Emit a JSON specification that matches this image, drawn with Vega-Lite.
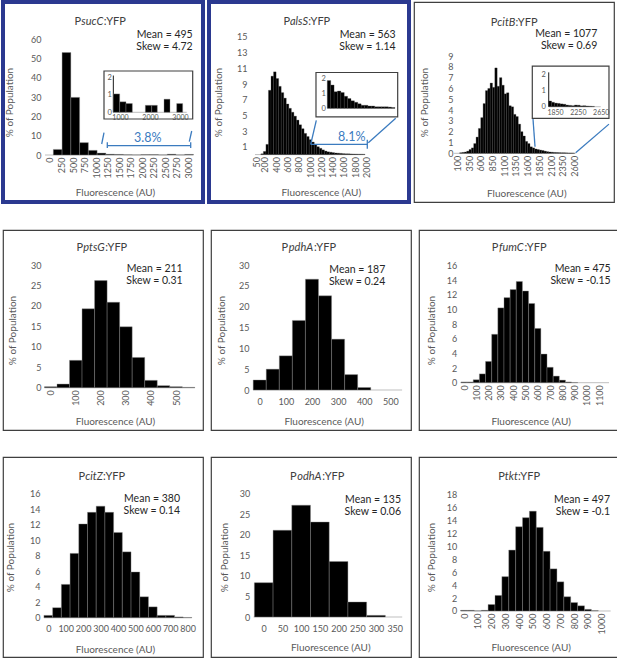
{
  "$schema": "https://vega.github.io/schema/vega-lite/v6.json",
  "background": "white",
  "padding": {"left": 1, "top": 0, "right": 0, "bottom": 0},
  "config": {
    "view": {"stroke": "#3f3f3f", "strokeWidth": 1.2},
    "axis": {"grid": false, "ticks": false, "domain": false, "labelFont": "Lato", "labelFontSize": 9, "labelColor": "#595959", "titleFont": "Lato", "titleFontSize": 10, "titleFontWeight": "normal", "titleColor": "#595959", "labelOverlap": false, "labelFlush": false, "zindex": 1},
    "text": {"font": "Lato"},
    "bar": {"color": "#000000", "stroke": "#8a8a8a", "strokeWidth": 0.4}
  },
  "datasets": {
    "sucC": [
      {"lo": 72, "hi": 262, "pct": 2.9}, {"lo": 262, "hi": 452, "pct": 53}, {"lo": 452, "hi": 642, "pct": 29.8},
      {"lo": 642, "hi": 832, "pct": 6.4}, {"lo": 832, "hi": 1022, "pct": 2.4}, {"lo": 1022, "hi": 1212, "pct": 1.0},
      {"lo": 1212, "hi": 1402, "pct": 0.4}, {"lo": 1402, "hi": 1592, "pct": 0.3}, {"lo": 1592, "hi": 1782, "pct": 0.1},
      {"lo": 1782, "hi": 1972, "pct": 0.05}, {"lo": 1972, "hi": 2162, "pct": 0.2}, {"lo": 2162, "hi": 2352, "pct": 0.2},
      {"lo": 2352, "hi": 2542, "pct": 0.05}, {"lo": 2542, "hi": 2732, "pct": 0.4}, {"lo": 2732, "hi": 2922, "pct": 0.05},
      {"lo": 2922, "hi": 3112, "pct": 0.3}
    ],
    "sucC_tail": [
      {"lo": 778, "hi": 989, "pct": 1.05}, {"lo": 989, "hi": 1200, "pct": 0.6}, {"lo": 1200, "hi": 1411, "pct": 0.5},
      {"lo": 1844, "hi": 2056, "pct": 0.4}, {"lo": 2056, "hi": 2244, "pct": 0.4}, {"lo": 2467, "hi": 2667, "pct": 0.75},
      {"lo": 2889, "hi": 3089, "pct": 0.5}
    ],
    "alsS": [
      {"lo": 130, "hi": 175, "pct": 0.1}, {"lo": 175, "hi": 220, "pct": 0.4}, {"lo": 220, "hi": 265, "pct": 1.3},
      {"lo": 265, "hi": 310, "pct": 8.2}, {"lo": 310, "hi": 355, "pct": 10.0}, {"lo": 355, "hi": 400, "pct": 10.55},
      {"lo": 400, "hi": 445, "pct": 9.7}, {"lo": 445, "hi": 490, "pct": 8.7}, {"lo": 490, "hi": 535, "pct": 7.9},
      {"lo": 535, "hi": 580, "pct": 7.2}, {"lo": 580, "hi": 625, "pct": 6.45}, {"lo": 625, "hi": 670, "pct": 5.9},
      {"lo": 670, "hi": 715, "pct": 5.4}, {"lo": 715, "hi": 760, "pct": 4.9}, {"lo": 760, "hi": 805, "pct": 4.4},
      {"lo": 805, "hi": 850, "pct": 3.8}, {"lo": 850, "hi": 895, "pct": 3.3}, {"lo": 895, "hi": 940, "pct": 2.7},
      {"lo": 940, "hi": 985, "pct": 2.3}, {"lo": 985, "hi": 1030, "pct": 1.9}, {"lo": 1030, "hi": 1075, "pct": 1.6},
      {"lo": 1075, "hi": 1120, "pct": 1.25}, {"lo": 1120, "hi": 1165, "pct": 1.0}, {"lo": 1165, "hi": 1210, "pct": 0.8},
      {"lo": 1210, "hi": 1255, "pct": 0.6}, {"lo": 1255, "hi": 1300, "pct": 0.45}, {"lo": 1300, "hi": 1345, "pct": 0.35},
      {"lo": 1345, "hi": 1390, "pct": 0.3}, {"lo": 1390, "hi": 1435, "pct": 0.25}, {"lo": 1435, "hi": 1480, "pct": 0.2},
      {"lo": 1480, "hi": 1525, "pct": 0.18}, {"lo": 1525, "hi": 1570, "pct": 0.15}, {"lo": 1570, "hi": 1615, "pct": 0.12},
      {"lo": 1615, "hi": 1660, "pct": 0.1}, {"lo": 1660, "hi": 1705, "pct": 0.1}, {"lo": 1705, "hi": 1750, "pct": 0.08},
      {"lo": 1750, "hi": 1795, "pct": 0.07}, {"lo": 1795, "hi": 1840, "pct": 0.06}, {"lo": 1840, "hi": 1885, "pct": 0.05},
      {"lo": 1885, "hi": 1930, "pct": 0.05}, {"lo": 1930, "hi": 1975, "pct": 0.04}
    ],
    "alsS_tail": [
      {"lo": 1000, "hi": 1050, "pct": 1.85}, {"lo": 1050, "hi": 1100, "pct": 1.55}, {"lo": 1100, "hi": 1150, "pct": 1.1},
      {"lo": 1150, "hi": 1200, "pct": 1.15}, {"lo": 1200, "hi": 1250, "pct": 1.05}, {"lo": 1250, "hi": 1300, "pct": 0.8},
      {"lo": 1300, "hi": 1350, "pct": 0.65}, {"lo": 1350, "hi": 1400, "pct": 0.5}, {"lo": 1400, "hi": 1450, "pct": 0.4},
      {"lo": 1450, "hi": 1500, "pct": 0.3}, {"lo": 1500, "hi": 1550, "pct": 0.2}, {"lo": 1550, "hi": 1600, "pct": 0.2},
      {"lo": 1600, "hi": 1650, "pct": 0.15}, {"lo": 1650, "hi": 1700, "pct": 0.15}, {"lo": 1700, "hi": 1750, "pct": 0.1},
      {"lo": 1750, "hi": 1800, "pct": 0.1}, {"lo": 1800, "hi": 1850, "pct": 0.1}, {"lo": 1850, "hi": 1900, "pct": 0.1},
      {"lo": 1900, "hi": 1950, "pct": 0.08}, {"lo": 1950, "hi": 2000, "pct": 0.05}
    ],
    "citB": [
      {"lo": 150, "hi": 200, "pct": 0.05}, {"lo": 200, "hi": 250, "pct": 0.08}, {"lo": 250, "hi": 300, "pct": 0.12},
      {"lo": 300, "hi": 350, "pct": 0.2}, {"lo": 350, "hi": 400, "pct": 0.35}, {"lo": 400, "hi": 450, "pct": 0.5},
      {"lo": 450, "hi": 500, "pct": 0.9}, {"lo": 500, "hi": 550, "pct": 1.5}, {"lo": 550, "hi": 600, "pct": 2.3},
      {"lo": 600, "hi": 650, "pct": 3.3}, {"lo": 650, "hi": 700, "pct": 4.6}, {"lo": 700, "hi": 750, "pct": 5.8},
      {"lo": 750, "hi": 800, "pct": 6.0}, {"lo": 800, "hi": 850, "pct": 6.5}, {"lo": 850, "hi": 900, "pct": 6.1},
      {"lo": 900, "hi": 950, "pct": 7.9}, {"lo": 950, "hi": 1000, "pct": 6.2}, {"lo": 1000, "hi": 1050, "pct": 7.0},
      {"lo": 1050, "hi": 1100, "pct": 6.3}, {"lo": 1100, "hi": 1150, "pct": 5.5}, {"lo": 1150, "hi": 1200, "pct": 5.6},
      {"lo": 1200, "hi": 1250, "pct": 4.4}, {"lo": 1250, "hi": 1300, "pct": 4.3}, {"lo": 1300, "hi": 1350, "pct": 3.6},
      {"lo": 1350, "hi": 1400, "pct": 3.4}, {"lo": 1400, "hi": 1450, "pct": 2.7}, {"lo": 1450, "hi": 1500, "pct": 2.0},
      {"lo": 1500, "hi": 1550, "pct": 1.6}, {"lo": 1550, "hi": 1600, "pct": 1.1}, {"lo": 1600, "hi": 1650, "pct": 0.9},
      {"lo": 1650, "hi": 1700, "pct": 0.6}, {"lo": 1700, "hi": 1750, "pct": 0.5}, {"lo": 1750, "hi": 1800, "pct": 0.4},
      {"lo": 1800, "hi": 1850, "pct": 0.35}, {"lo": 1850, "hi": 1900, "pct": 0.3}, {"lo": 1900, "hi": 1950, "pct": 0.25},
      {"lo": 1950, "hi": 2000, "pct": 0.2}, {"lo": 2000, "hi": 2050, "pct": 0.15}, {"lo": 2050, "hi": 2100, "pct": 0.12},
      {"lo": 2100, "hi": 2150, "pct": 0.1}, {"lo": 2150, "hi": 2200, "pct": 0.08}, {"lo": 2200, "hi": 2250, "pct": 0.07},
      {"lo": 2250, "hi": 2300, "pct": 0.06}, {"lo": 2300, "hi": 2350, "pct": 0.05}, {"lo": 2350, "hi": 2400, "pct": 0.05},
      {"lo": 2400, "hi": 2450, "pct": 0.04}, {"lo": 2450, "hi": 2500, "pct": 0.03}, {"lo": 2500, "hi": 2550, "pct": 0.03},
      {"lo": 2550, "hi": 2600, "pct": 0.02}
    ],
    "citB_tail": [
      {"lo": 1740, "hi": 1790, "pct": 0.35}, {"lo": 1790, "hi": 1840, "pct": 0.27}, {"lo": 1840, "hi": 1890, "pct": 0.22},
      {"lo": 1890, "hi": 1940, "pct": 0.2}, {"lo": 1940, "hi": 1990, "pct": 0.17}, {"lo": 1990, "hi": 2040, "pct": 0.15},
      {"lo": 2040, "hi": 2090, "pct": 0.1}, {"lo": 2090, "hi": 2140, "pct": 0.08}, {"lo": 2140, "hi": 2190, "pct": 0.06},
      {"lo": 2190, "hi": 2240, "pct": 0.1}, {"lo": 2240, "hi": 2290, "pct": 0.09}, {"lo": 2290, "hi": 2340, "pct": 0.05},
      {"lo": 2340, "hi": 2390, "pct": 0.06}, {"lo": 2390, "hi": 2440, "pct": 0.04}, {"lo": 2440, "hi": 2490, "pct": 0.03},
      {"lo": 2490, "hi": 2540, "pct": 0.02}
    ],
    "ptsG": [
      {"lo": -25, "hi": 25, "pct": 0.25}, {"lo": 25, "hi": 75, "pct": 0.9}, {"lo": 75, "hi": 125, "pct": 6.7},
      {"lo": 125, "hi": 175, "pct": 19.3}, {"lo": 175, "hi": 225, "pct": 26.2}, {"lo": 225, "hi": 275, "pct": 20.9},
      {"lo": 275, "hi": 325, "pct": 14.9}, {"lo": 325, "hi": 375, "pct": 7.4}, {"lo": 375, "hi": 425, "pct": 1.8},
      {"lo": 425, "hi": 475, "pct": 0.5}, {"lo": 475, "hi": 525, "pct": 0.25}, {"lo": 525, "hi": 575, "pct": 0.1}
    ],
    "pdhA": [
      {"lo": -25, "hi": 25, "pct": 2.4}, {"lo": 25, "hi": 75, "pct": 5.0}, {"lo": 75, "hi": 125, "pct": 8.2},
      {"lo": 125, "hi": 175, "pct": 16.7}, {"lo": 175, "hi": 225, "pct": 26.6}, {"lo": 225, "hi": 275, "pct": 22.6},
      {"lo": 275, "hi": 325, "pct": 12.2}, {"lo": 325, "hi": 375, "pct": 3.7}, {"lo": 375, "hi": 425, "pct": 0.6}
    ],
    "fumC": [
      {"lo": -25, "hi": 25, "pct": 0.1}, {"lo": 25, "hi": 75, "pct": 0.1}, {"lo": 75, "hi": 125, "pct": 0.4},
      {"lo": 125, "hi": 175, "pct": 1.2}, {"lo": 175, "hi": 225, "pct": 2.9}, {"lo": 225, "hi": 275, "pct": 6.6},
      {"lo": 275, "hi": 325, "pct": 10.2}, {"lo": 325, "hi": 375, "pct": 11.6}, {"lo": 375, "hi": 425, "pct": 12.7},
      {"lo": 425, "hi": 475, "pct": 13.8}, {"lo": 475, "hi": 525, "pct": 12.5}, {"lo": 525, "hi": 575, "pct": 10.8},
      {"lo": 575, "hi": 625, "pct": 7.4}, {"lo": 625, "hi": 675, "pct": 3.9}, {"lo": 675, "hi": 725, "pct": 2.1},
      {"lo": 725, "hi": 775, "pct": 0.9}, {"lo": 775, "hi": 825, "pct": 0.35}, {"lo": 825, "hi": 875, "pct": 0.1},
      {"lo": 875, "hi": 925, "pct": 0.03}
    ],
    "citZ": [
      {"lo": -25, "hi": 25, "pct": 0.3}, {"lo": 25, "hi": 75, "pct": 1.3}, {"lo": 75, "hi": 125, "pct": 4.3},
      {"lo": 125, "hi": 175, "pct": 8.3}, {"lo": 175, "hi": 225, "pct": 12.1}, {"lo": 225, "hi": 275, "pct": 13.6},
      {"lo": 275, "hi": 325, "pct": 14.4}, {"lo": 325, "hi": 375, "pct": 13.6}, {"lo": 375, "hi": 425, "pct": 11.0},
      {"lo": 425, "hi": 475, "pct": 8.5}, {"lo": 475, "hi": 525, "pct": 5.9}, {"lo": 525, "hi": 575, "pct": 2.7},
      {"lo": 575, "hi": 625, "pct": 1.4}, {"lo": 625, "hi": 675, "pct": 0.3}, {"lo": 675, "hi": 725, "pct": 0.3},
      {"lo": 725, "hi": 775, "pct": 0.1}, {"lo": 775, "hi": 825, "pct": 0.03}
    ],
    "odhA": [
      {"lo": -25, "hi": 25, "pct": 8.35}, {"lo": 25, "hi": 75, "pct": 21.1}, {"lo": 75, "hi": 125, "pct": 27.2},
      {"lo": 125, "hi": 175, "pct": 23.1}, {"lo": 175, "hi": 225, "pct": 13.5}, {"lo": 225, "hi": 275, "pct": 3.65},
      {"lo": 275, "hi": 325, "pct": 0.4}
    ],
    "tkt": [
      {"lo": -25, "hi": 25, "pct": 0.1}, {"lo": 25, "hi": 75, "pct": 0.1}, {"lo": 75, "hi": 125, "pct": 0.02},
      {"lo": 125, "hi": 175, "pct": 0.1}, {"lo": 175, "hi": 225, "pct": 1.0}, {"lo": 225, "hi": 275, "pct": 2.4},
      {"lo": 275, "hi": 325, "pct": 5.3}, {"lo": 325, "hi": 375, "pct": 9.4}, {"lo": 375, "hi": 425, "pct": 13.0},
      {"lo": 425, "hi": 475, "pct": 14.4}, {"lo": 475, "hi": 525, "pct": 15.4}, {"lo": 525, "hi": 575, "pct": 12.9},
      {"lo": 575, "hi": 625, "pct": 9.2}, {"lo": 625, "hi": 675, "pct": 6.5}, {"lo": 675, "hi": 725, "pct": 4.5},
      {"lo": 725, "hi": 775, "pct": 2.2}, {"lo": 775, "hi": 825, "pct": 1.3}, {"lo": 825, "hi": 875, "pct": 0.8},
      {"lo": 875, "hi": 925, "pct": 0.25}, {"lo": 925, "hi": 975, "pct": 0.05}
    ]
  },
  "spacing": 25,
  "vconcat": [
    {
      "spacing": 2,
      "hconcat": [
        {
          "width": 200, "height": 200,
          "view": {"stroke": "#2b3990", "strokeWidth": 4},
          "resolve": {"scale": {"x": "independent", "y": "independent"}},
          "layer": [
            {
              "layer": [
                {"data": {"values": [{}]}, "mark": {"type": "rule", "color": "#bfbfbf", "strokeWidth": 1},
                 "encoding": {"x": {"datum": -108, "type": "quantitative"}, "x2": {"datum": 3112}, "y": {"datum": 0, "type": "quantitative"}}},
                {"data": {"name": "sucC"}, "mark": {"type": "bar"},
                 "encoding": {
                   "x": {"field": "lo", "type": "quantitative", "scale": {"domain": [-1019.5, 3318.9], "nice": false, "zero": false},
                         "axis": {"orient": "bottom", "offset": -47, "values": [0, 250, 500, 750, 1000, 1250, 1500, 1750, 2000, 2250, 2500, 2750, 3000], "tickCount": 100, "format": "d", "labelOverlap": false, "labelFlush": false, "labelAngle": -90, "labelPadding": 2, "title": "Fluorescence (AU)", "titlePadding": 10, "titleX": 112}},
                   "x2": {"field": "hi"},
                   "y": {"field": "pct", "type": "quantitative", "scale": {"domain": [-24.31, 79.14], "nice": false, "zero": false},
                         "axis": {"orient": "left", "offset": -42, "values": [0, 10, 20, 30, 40, 50, 60], "tickCount": 100, "format": "d", "labelOverlap": false, "labelFlush": false, "labelPadding": 4, "title": "% of Population", "titlePadding": 16}},
                   "y2": {"datum": 0}}},
                {"data": {"values": [{}]},
                 "encoding": {"x": {"datum": 1084.6, "type": "quantitative"}, "y": {"datum": 67.09, "type": "quantitative"}},
                 "layer": [
                   {"mark": {"type": "text", "text": "P", "align": "right", "baseline": "alphabetic", "dx": -19.0, "fontSize": 11, "color": "#404040"}},
                   {"mark": {"type": "text", "text": "sucC", "align": "center", "baseline": "alphabetic", "dx": -7.7, "fontSize": 11, "fontStyle": "italic", "color": "#404040"}},
                   {"mark": {"type": "text", "text": ":YFP", "align": "left", "baseline": "alphabetic", "dx": 3.8, "fontSize": 11, "color": "#404040"}}
                 ]},
                {"data": {"values": [{}]}, "mark": {"type": "text", "text": ["Mean = 495", "Skew = 4.72"], "align": "right", "baseline": "alphabetic", "lineHeight": 12, "fontSize": 10.5, "color": "#262626"},
                 "encoding": {"x": {"datum": 3095.4, "type": "quantitative"}, "y": {"datum": 60.36, "type": "quantitative"}}},
                {"data": {"values": [{}]}, "mark": {"type": "rect", "fill": "white", "fillOpacity": 0, "stroke": "#404040", "strokeWidth": 1.2},
                 "encoding": {"x": {"datum": 1171.4, "type": "quantitative"}, "x2": {"datum": 3095.4}, "y": {"datum": 18.62, "type": "quantitative"}, "y2": {"datum": 43.45}}},
                {"data": {"values": [{}]}, "mark": {"type": "rule", "color": "#3b7bbf", "strokeWidth": 1.3},
                 "encoding": {"x": {"datum": 1121.5, "type": "quantitative"}, "x2": {"datum": 1171.4}, "y": {"datum": 5.69, "type": "quantitative"}, "y2": {"datum": 11.53}}},
                {"data": {"values": [{}]}, "mark": {"type": "rule", "color": "#3b7bbf", "strokeWidth": 1.3},
                 "encoding": {"x": {"datum": 3021.7, "type": "quantitative"}, "x2": {"datum": 3073.8}, "y": {"datum": 6.88, "type": "quantitative"}, "y2": {"datum": 12.41}}},
                {"data": {"values": [{}]}, "mark": {"type": "rule", "color": "#3b7bbf", "strokeWidth": 1.3},
                 "encoding": {"x": {"datum": 1243, "type": "quantitative"}, "x2": {"datum": 3052}, "y": {"datum": 4.81, "type": "quantitative"}}},
                {"data": {"values": [{}]}, "mark": {"type": "rule", "color": "#3b7bbf", "strokeWidth": 1.3},
                 "encoding": {"x": {"datum": 1243, "type": "quantitative"}, "y": {"datum": 6.57, "type": "quantitative"}, "y2": {"datum": 3.62}}},
                {"data": {"values": [{}]}, "mark": {"type": "rule", "color": "#3b7bbf", "strokeWidth": 1.3},
                 "encoding": {"x": {"datum": 3052, "type": "quantitative"}, "y": {"datum": 6.57, "type": "quantitative"}, "y2": {"datum": 3.62}}},
                {"data": {"values": [{}]}, "mark": {"type": "text", "text": "3.8%", "align": "center", "baseline": "middle", "fontSize": 12.5, "color": "#3b7bbf"},
                 "encoding": {"x": {"datum": 2119, "type": "quantitative"}, "y": {"datum": 8.64, "type": "quantitative"}}}
              ]
            },
            {
              "layer": [
                {"data": {"values": [{}]}, "mark": {"type": "rule", "color": "#bfbfbf", "strokeWidth": 1},
                 "encoding": {"x": {"datum": 778, "type": "quantitative"}, "x2": {"datum": 3223}, "y": {"datum": 0, "type": "quantitative"}}},
                {"data": {"values": [{}]}, "mark": {"type": "rule", "color": "#1a1a1a", "strokeWidth": 1},
                 "encoding": {"x": {"datum": 778, "type": "quantitative"}, "y": {"datum": 0, "type": "quantitative"}, "y2": {"datum": 2.1}}},
                {"data": {"name": "sucC_tail"}, "mark": {"type": "bar"},
                 "encoding": {
                   "x": {"field": "lo", "type": "quantitative", "scale": {"domain": [-2900, 3766.7], "nice": false, "zero": false},
                         "axis": {"orient": "bottom", "offset": -89.7, "values": [1000, 2000, 3000], "tickCount": 100, "format": "d", "labelOverlap": false, "labelFlush": false, "labelAngle": 0, "labelPadding": 1, "labelFontSize": 7, "title": null}},
                   "x2": {"field": "hi"},
                   "y": {"field": "pct", "type": "quantitative", "scale": {"domain": [-5.126, 6.303], "nice": false, "zero": false},
                         "axis": {"orient": "left", "offset": -110.3, "values": [0, 1, 2], "tickCount": 100, "format": "d", "labelOverlap": false, "labelFlush": false, "labelPadding": 2, "labelFontSize": 7.5, "title": null}},
                   "y2": {"datum": 0}}}
              ]
            }
          ]
        },
        {
          "width": 200, "height": 200,
          "view": {"stroke": "#2b3990", "strokeWidth": 4},
          "resolve": {"scale": {"x": "independent", "y": "independent"}},
          "layer": [
            {
              "layer": [
                {"data": {"values": [{}]}, "mark": {"type": "rule", "color": "#bfbfbf", "strokeWidth": 1},
                 "encoding": {"x": {"datum": 26.5, "type": "quantitative"}, "x2": {"datum": 1975}, "y": {"datum": 0, "type": "quantitative"}}},
                {"data": {"name": "alsS"}, "mark": {"type": "bar", "stroke": "#3a3a3a", "strokeWidth": 0.3},
                 "encoding": {
                   "x": {"field": "lo", "type": "quantitative", "scale": {"domain": [-787.6, 2752.2], "nice": false, "zero": false},
                         "axis": {"orient": "bottom", "offset": -47.4, "values": [50, 200, 400, 600, 800, 1000, 1200, 1400, 1600, 1800, 2000], "tickCount": 100, "format": "d", "labelOverlap": false, "labelFlush": false, "labelAngle": -90, "labelPadding": 2, "title": "Fluorescence (AU)", "titlePadding": 10, "titleX": 111.8}},
                   "x2": {"field": "hi"},
                   "y": {"field": "pct", "type": "quantitative", "scale": {"domain": [-6.046, 19.46], "nice": false, "zero": false},
                         "axis": {"orient": "left", "offset": -42, "values": [1, 3, 5, 7, 9, 11, 13, 15], "tickCount": 100, "format": "d", "labelOverlap": false, "labelFlush": false, "labelPadding": 4, "title": "% of Population", "titlePadding": 13}},
                   "y2": {"datum": 0}}},
                {"data": {"values": [{}]},
                 "encoding": {"x": {"datum": 941.6, "type": "quantitative"}, "y": {"datum": 16.49, "type": "quantitative"}},
                 "layer": [
                   {"mark": {"type": "text", "text": "P", "align": "right", "baseline": "alphabetic", "dx": -16.65, "fontSize": 11, "color": "#404040"}},
                   {"mark": {"type": "text", "text": "alsS", "align": "center", "baseline": "alphabetic", "dx": -7.7, "fontSize": 11, "fontStyle": "italic", "color": "#404040"}},
                   {"mark": {"type": "text", "text": ":YFP", "align": "left", "baseline": "alphabetic", "dx": 1.5, "fontSize": 11, "color": "#404040"}}
                 ]},
                {"data": {"values": [{}]}, "mark": {"type": "text", "text": ["Mean = 563", "Skew = 1.14"], "align": "right", "baseline": "alphabetic", "lineHeight": 12, "fontSize": 10.5, "color": "#262626"},
                 "encoding": {"x": {"datum": 2516.8, "type": "quantitative"}, "y": {"datum": 14.83, "type": "quantitative"}}},
                {"data": {"values": [{}]}, "mark": {"type": "rect", "fill": "white", "fillOpacity": 0, "stroke": "#404040", "strokeWidth": 1.2},
                 "encoding": {"x": {"datum": 1106, "type": "quantitative"}, "x2": {"datum": 2552}, "y": {"datum": 4.8, "type": "quantitative"}, "y2": {"datum": 10.47}}},
                {"data": {"values": [{}]}, "mark": {"type": "rule", "color": "#3b7bbf", "strokeWidth": 1.3},
                 "encoding": {"x": {"datum": 1012, "type": "quantitative"}, "x2": {"datum": 1111.5}, "y": {"datum": 1.314, "type": "quantitative"}, "y2": {"datum": 4.375}}},
                {"data": {"values": [{}]}, "mark": {"type": "rule", "color": "#3b7bbf", "strokeWidth": 1.3},
                 "encoding": {"x": {"datum": 2032, "type": "quantitative"}, "x2": {"datum": 2517}, "y": {"datum": 1.518, "type": "quantitative"}, "y2": {"datum": 4.63}}},
                {"data": {"values": [{}]}, "mark": {"type": "rule", "color": "#3b7bbf", "strokeWidth": 1.3},
                 "encoding": {"x": {"datum": 1012, "type": "quantitative"}, "x2": {"datum": 2014}, "y": {"datum": 1.314, "type": "quantitative"}}},
                {"data": {"values": [{}]}, "mark": {"type": "rule", "color": "#3b7bbf", "strokeWidth": 1.3},
                 "encoding": {"x": {"datum": 2014, "type": "quantitative"}, "y": {"datum": 1.9, "type": "quantitative"}, "y2": {"datum": 0.75}}},
                {"data": {"values": [{}]}, "mark": {"type": "text", "text": "8.1%", "align": "center", "baseline": "middle", "fontSize": 12.5, "color": "#3b7bbf"},
                 "encoding": {"x": {"datum": 1738, "type": "quantitative"}, "y": {"datum": 2.28, "type": "quantitative"}}}
              ]
            },
            {
              "layer": [
                {"data": {"values": [{}]}, "mark": {"type": "rule", "color": "#bfbfbf", "strokeWidth": 1},
                 "encoding": {"x": {"datum": 1000, "type": "quantitative", "axis": null}, "x2": {"datum": 2000}, "y": {"datum": 0, "type": "quantitative"}}},
                {"data": {"name": "alsS_tail"}, "mark": {"type": "bar", "stroke": "#3a3a3a", "strokeWidth": 0.3},
                 "encoding": {
                   "x": {"field": "lo", "type": "quantitative", "scale": {"domain": [-747.4, 2206.8], "nice": false, "zero": false}, "axis": null},
                   "x2": {"field": "hi"},
                   "y": {"field": "pct", "type": "quantitative", "scale": {"domain": [-6.247, 7.087], "nice": false, "zero": false},
                         "axis": {"orient": "left", "offset": -118.3, "values": [0, 1, 2], "tickCount": 100, "format": "d", "labelOverlap": false, "labelFlush": false, "labelPadding": 2, "labelFontSize": 7.5, "title": null}},
                   "y2": {"datum": 0}}}
              ]
            }
          ]
        },
        {
          "width": 200, "height": 200,
          "resolve": {"scale": {"x": "independent", "y": "independent"}},
          "layer": [
            {
              "layer": [
                {"data": {"values": [{}]}, "mark": {"type": "rule", "color": "#bfbfbf", "strokeWidth": 1},
                 "encoding": {"x": {"datum": 30, "type": "quantitative"}, "x2": {"datum": 2624}, "y": {"datum": 0, "type": "quantitative"}}},
                {"data": {"name": "citB"}, "mark": {"type": "bar", "stroke": "#3a3a3a", "strokeWidth": 0.3},
                 "encoding": {
                   "x": {"field": "lo", "type": "quantitative", "scale": {"domain": [-823.2, 3441], "nice": false, "zero": false},
                         "axis": {"orient": "bottom", "offset": -48.7, "values": [100, 350, 600, 850, 1100, 1350, 1600, 1850, 2100, 2350, 2600], "tickCount": 100, "format": "d", "labelOverlap": false, "labelFlush": false, "labelAngle": -90, "labelPadding": 2, "title": "Fluorescence (AU)", "titlePadding": 12, "titleX": 112.3}},
                   "x2": {"field": "hi"},
                   "y": {"field": "pct", "type": "quantitative", "scale": {"domain": [-4.505, 14.0], "nice": false, "zero": false},
                         "axis": {"orient": "left", "offset": -41, "values": [0, 1, 2, 3, 4, 5, 6, 7, 8, 9], "tickCount": 100, "format": "d", "labelOverlap": false, "labelFlush": false, "labelPadding": 2, "title": "% of Population", "titlePadding": 18}},
                   "y2": {"datum": 0}}},
                {"data": {"values": [{}]},
                 "encoding": {"x": {"datum": 1309, "type": "quantitative"}, "y": {"datum": 11.75, "type": "quantitative"}},
                 "layer": [
                   {"mark": {"type": "text", "text": "P", "align": "right", "baseline": "alphabetic", "dx": -16.7, "fontSize": 11, "color": "#404040"}},
                   {"mark": {"type": "text", "text": "citB", "align": "center", "baseline": "alphabetic", "dx": -7.7, "fontSize": 11, "fontStyle": "italic", "color": "#404040"}},
                   {"mark": {"type": "text", "text": ":YFP", "align": "left", "baseline": "alphabetic", "dx": 1.5, "fontSize": 11, "color": "#404040"}}
                 ]},
                {"data": {"values": [{}]}, "mark": {"type": "text", "text": ["Mean = 1077", "Skew = 0.69"], "align": "right", "baseline": "alphabetic", "lineHeight": 12, "fontSize": 10.5, "color": "#262626"},
                 "encoding": {"x": {"datum": 3085, "type": "quantitative"}, "y": {"datum": 10.79, "type": "quantitative"}}},
                {"data": {"values": [{}]}, "mark": {"type": "rect", "fill": "white", "fillOpacity": 0, "stroke": "#404040", "strokeWidth": 1.2},
                 "encoding": {"x": {"datum": 1699, "type": "quantitative"}, "x2": {"datum": 3334}, "y": {"datum": 3.238, "type": "quantitative"}, "y2": {"datum": 8.076}}},
                {"data": {"values": [{}]}, "mark": {"type": "rule", "color": "#3b7bbf", "strokeWidth": 1.3},
                 "encoding": {"x": {"datum": 1757, "type": "quantitative"}, "x2": {"datum": 1714}, "y": {"datum": 0.611, "type": "quantitative"}, "y2": {"datum": 3.17}}},
                {"data": {"values": [{}]}, "mark": {"type": "rule", "color": "#3b7bbf", "strokeWidth": 1.3},
                 "encoding": {"x": {"datum": 2624, "type": "quantitative"}, "x2": {"datum": 3334}, "y": {"datum": 0.056, "type": "quantitative"}, "y2": {"datum": 2.7}}}
              ]
            },
            {
              "layer": [
                {"data": {"values": [{}]}, "mark": {"type": "rule", "color": "#bfbfbf", "strokeWidth": 1},
                 "encoding": {"x": {"datum": 1740, "type": "quantitative"}, "x2": {"datum": 2650}, "y": {"datum": 0, "type": "quantitative"}}},
                {"data": {"values": [{}]}, "mark": {"type": "rule", "color": "#1a1a1a", "strokeWidth": 1},
                 "encoding": {"x": {"datum": 1740, "type": "quantitative"}, "y": {"datum": 0, "type": "quantitative"}, "y2": {"datum": 2.1}}},
                {"data": {"name": "citB_tail"}, "mark": {"type": "bar", "stroke": "#3a3a3a", "strokeWidth": 0.3},
                 "encoding": {
                   "x": {"field": "lo", "type": "quantitative", "scale": {"domain": [-619, 2883], "nice": false, "zero": false},
                         "axis": {"orient": "bottom", "offset": -95.3, "values": [1850, 2250, 2650], "tickCount": 100, "format": "d", "labelOverlap": false, "labelFlush": false, "labelAngle": 0, "labelPadding": 2, "labelFontSize": 7, "title": null}},
                   "x2": {"field": "hi"},
                   "y": {"field": "pct", "type": "quantitative", "scale": {"domain": [-5.829, 6.404], "nice": false, "zero": false},
                         "axis": {"orient": "left", "offset": -134.3, "values": [0, 1, 2], "tickCount": 100, "format": "d", "labelOverlap": false, "labelFlush": false, "labelPadding": 3, "labelFontSize": 7.5, "title": null}},
                   "y2": {"datum": 0}}}
              ]
            }
          ]
        }
      ]
    },
    {
      "spacing": 6,
      "hconcat": [
        {
          "width": 200, "height": 200,
          "layer": [
            {"data": {"values": [{}]}, "mark": {"type": "rule", "color": "#bfbfbf", "strokeWidth": 1},
             "encoding": {"x": {"datum": -25, "type": "quantitative"}, "x2": {"datum": 575}, "y": {"datum": 0, "type": "quantitative"}}},
            {"data": {"name": "ptsG"}, "mark": {"type": "bar"},
             "encoding": {
               "x": {"field": "lo", "type": "quantitative", "scale": {"domain": [-190.3, 607.5], "nice": false, "zero": false},
                     "axis": {"orient": "bottom", "offset": -42.3, "values": [0, 100, 200, 300, 400, 500], "tickCount": 100, "format": "d", "labelOverlap": false, "labelFlush": false, "labelAngle": -90, "labelPadding": 2, "title": "Fluorescence (AU)", "titlePadding": 11, "titleX": 112}},
               "x2": {"field": "hi"},
               "y": {"field": "pct", "type": "quantitative", "scale": {"domain": [-10.34, 38.57], "nice": false, "zero": false},
                     "axis": {"orient": "left", "offset": -42, "values": [0, 5, 10, 15, 20, 25, 30], "tickCount": 100, "format": "d", "labelOverlap": false, "labelFlush": false, "labelPadding": 4, "title": "% of Population", "titlePadding": 13}},
               "y2": {"datum": 0}}},
            {"data": {"values": [{}]},
             "encoding": {"x": {"datum": 203.4, "type": "quantitative"}, "y": {"datum": 33.36, "type": "quantitative"}},
             "layer": [
               {"mark": {"type": "text", "text": "P", "align": "right", "baseline": "alphabetic", "dx": -18.65, "fontSize": 11, "color": "#404040"}},
               {"mark": {"type": "text", "text": "ptsG", "align": "center", "baseline": "alphabetic", "dx": -7.7, "fontSize": 11, "fontStyle": "italic", "color": "#404040"}},
               {"mark": {"type": "text", "text": ":YFP", "align": "left", "baseline": "alphabetic", "dx": 3.5, "fontSize": 11, "color": "#404040"}}
             ]},
            {"data": {"values": [{}]}, "mark": {"type": "text", "text": ["Mean = 211", "Skew = 0.31"], "align": "right", "baseline": "alphabetic", "lineHeight": 12, "fontSize": 10.5, "color": "#262626"},
             "encoding": {"x": {"datum": 526.5, "type": "quantitative"}, "y": {"datum": 28.3, "type": "quantitative"}}}
          ]
        },
        {
          "width": 200, "height": 200,
          "layer": [
            {"data": {"values": [{}]}, "mark": {"type": "rule", "color": "#bfbfbf", "strokeWidth": 1},
             "encoding": {"x": {"datum": -25, "type": "quantitative"}, "x2": {"datum": 545}, "y": {"datum": 0, "type": "quantitative"}}},
            {"data": {"name": "pdhA"}, "mark": {"type": "bar"},
             "encoding": {
               "x": {"field": "lo", "type": "quantitative", "scale": {"domain": [-186.4, 579.0], "nice": false, "zero": false},
                     "axis": {"orient": "bottom", "offset": -40, "values": [0, 100, 200, 300, 400, 500], "tickCount": 100, "format": "d", "labelOverlap": false, "labelFlush": false, "labelAngle": 0, "labelPadding": 7, "title": "Fluorescence (AU)", "titlePadding": 10, "titleX": 112.7}},
               "x2": {"field": "hi"},
               "y": {"field": "pct", "type": "quantitative", "scale": {"domain": [-9.6, 38.4], "nice": false, "zero": false},
                     "axis": {"orient": "left", "offset": -42, "values": [0, 5, 10, 15, 20, 25, 30], "tickCount": 100, "format": "d", "labelOverlap": false, "labelFlush": false, "labelPadding": 4, "title": "% of Population", "titlePadding": 12}},
               "y2": {"datum": 0}}},
            {"data": {"values": [{}]},
             "encoding": {"x": {"datum": 187.5, "type": "quantitative"}, "y": {"datum": 33.29, "type": "quantitative"}},
             "layer": [
               {"mark": {"type": "text", "text": "P", "align": "right", "baseline": "alphabetic", "dx": -20.5, "fontSize": 11, "color": "#404040"}},
               {"mark": {"type": "text", "text": "pdhA", "align": "center", "baseline": "alphabetic", "dx": -7.7, "fontSize": 11, "fontStyle": "italic", "color": "#404040"}},
               {"mark": {"type": "text", "text": ":YFP", "align": "left", "baseline": "alphabetic", "dx": 5.3, "fontSize": 11, "color": "#404040"}}
             ]},
            {"data": {"values": [{}]}, "mark": {"type": "text", "text": ["Mean = 187", "Skew = 0.24"], "align": "right", "baseline": "alphabetic", "lineHeight": 12, "fontSize": 10.5, "color": "#262626"},
             "encoding": {"x": {"datum": 480.7, "type": "quantitative"}, "y": {"datum": 28.15, "type": "quantitative"}}}
          ]
        },
        {
          "width": 200, "height": 200,
          "layer": [
            {"data": {"values": [{}]}, "mark": {"type": "rule", "color": "#bfbfbf", "strokeWidth": 1},
             "encoding": {"x": {"datum": -27, "type": "quantitative"}, "x2": {"datum": 1179}, "y": {"datum": 0, "type": "quantitative"}}},
            {"data": {"name": "fumC"}, "mark": {"type": "bar"},
             "encoding": {
               "x": {"field": "lo", "type": "quantitative", "scale": {"domain": [-365.9, 1260.2], "nice": false, "zero": false},
                     "axis": {"orient": "bottom", "offset": -47.3, "values": [0, 100, 200, 300, 400, 500, 600, 700, 800, 900, 1000, 1100], "tickCount": 100, "format": "d", "labelOverlap": false, "labelFlush": false, "labelAngle": -90, "labelPadding": 2, "title": "Fluorescence (AU)", "titlePadding": 11, "titleX": 111.7}},
               "x2": {"field": "hi"},
               "y": {"field": "pct", "type": "quantitative", "scale": {"domain": [-6.45, 20.82], "nice": false, "zero": false},
                     "axis": {"orient": "left", "offset": -41.7, "values": [0, 2, 4, 6, 8, 10, 12, 14, 16], "tickCount": 100, "format": "d", "labelOverlap": false, "labelFlush": false, "labelPadding": 4, "title": "% of Population", "titlePadding": 10}},
               "y2": {"datum": 0}}},
            {"data": {"values": [{}]},
             "encoding": {"x": {"datum": 447.2, "type": "quantitative"}, "y": {"datum": 17.92, "type": "quantitative"}},
             "layer": [
               {"mark": {"type": "text", "text": "P", "align": "right", "baseline": "alphabetic", "dx": -20.7, "fontSize": 11, "color": "#404040"}},
               {"mark": {"type": "text", "text": "fumC", "align": "center", "baseline": "alphabetic", "dx": -7.7, "fontSize": 11, "fontStyle": "italic", "color": "#404040"}},
               {"mark": {"type": "text", "text": ":YFP", "align": "left", "baseline": "alphabetic", "dx": 5.5, "fontSize": 11, "color": "#404040"}}
             ]},
            {"data": {"values": [{}]}, "mark": {"type": "text", "text": ["Mean = 475", "Skew = -0.15"], "align": "right", "baseline": "alphabetic", "lineHeight": 12, "fontSize": 10.5, "color": "#262626"},
             "encoding": {"x": {"datum": 1192.7, "type": "quantitative"}, "y": {"datum": 15.1, "type": "quantitative"}}}
          ]
        }
      ]
    },
    {
      "spacing": 6,
      "hconcat": [
        {
          "width": 200, "height": 200,
          "layer": [
            {"data": {"values": [{}]}, "mark": {"type": "rule", "color": "#bfbfbf", "strokeWidth": 1},
             "encoding": {"x": {"datum": -25, "type": "quantitative"}, "x2": {"datum": 823}, "y": {"datum": 0, "type": "quantitative"}}},
            {"data": {"name": "citZ"}, "mark": {"type": "bar"},
             "encoding": {
               "x": {"field": "lo", "type": "quantitative", "scale": {"domain": [-260.0, 888.1], "nice": false, "zero": false},
                     "axis": {"orient": "bottom", "offset": -39.3, "values": [0, 100, 200, 300, 400, 500, 600, 700, 800], "tickCount": 100, "format": "d", "labelOverlap": false, "labelFlush": false, "labelAngle": 0, "labelPadding": 7, "title": "Fluorescence (AU)", "titlePadding": 11, "titleX": 112}},
               "x2": {"field": "hi"},
               "y": {"field": "pct", "type": "quantitative", "scale": {"domain": [-5.07, 20.74], "nice": false, "zero": false},
                     "axis": {"orient": "left", "offset": -41, "values": [0, 2, 4, 6, 8, 10, 12, 14, 16], "tickCount": 100, "format": "d", "labelOverlap": false, "labelFlush": false, "labelPadding": 4, "title": "% of Population", "titlePadding": 14}},
               "y2": {"datum": 0}}},
            {"data": {"values": [{}]},
             "encoding": {"x": {"datum": 306.5, "type": "quantitative"}, "y": {"datum": 17.82, "type": "quantitative"}},
             "layer": [
               {"mark": {"type": "text", "text": "P", "align": "right", "baseline": "alphabetic", "dx": -16.6, "fontSize": 11, "color": "#404040"}},
               {"mark": {"type": "text", "text": "citZ", "align": "center", "baseline": "alphabetic", "dx": -7.7, "fontSize": 11, "fontStyle": "italic", "color": "#404040"}},
               {"mark": {"type": "text", "text": ":YFP", "align": "left", "baseline": "alphabetic", "dx": 1.4, "fontSize": 11, "color": "#404040"}}
             ]},
            {"data": {"values": [{}]}, "mark": {"type": "text", "text": ["Mean = 380", "Skew = 0.14"], "align": "right", "baseline": "alphabetic", "lineHeight": 12, "fontSize": 10.5, "color": "#262626"},
             "encoding": {"x": {"datum": 756.0, "type": "quantitative"}, "y": {"datum": 14.97, "type": "quantitative"}}}
          ]
        },
        {
          "width": 200, "height": 200,
          "layer": [
            {"data": {"values": [{}]}, "mark": {"type": "rule", "color": "#bfbfbf", "strokeWidth": 1},
             "encoding": {"x": {"datum": -27, "type": "quantitative"}, "x2": {"datum": 370}, "y": {"datum": 0, "type": "quantitative"}}},
            {"data": {"name": "odhA"}, "mark": {"type": "bar"},
             "encoding": {
               "x": {"field": "lo", "type": "quantitative", "scale": {"domain": [-140.8, 393.5], "nice": false, "zero": false},
                     "axis": {"orient": "bottom", "offset": -40, "values": [0, 50, 100, 150, 200, 250, 300, 350], "tickCount": 100, "format": "d", "labelOverlap": false, "labelFlush": false, "labelAngle": 0, "labelPadding": 7, "title": "Fluorescence (AU)", "titlePadding": 9, "titleX": 119.3}},
               "x2": {"field": "hi"},
               "y": {"field": "pct", "type": "quantitative", "scale": {"domain": [-9.73, 38.92], "nice": false, "zero": false},
                     "axis": {"orient": "left", "offset": -42.7, "values": [0, 5, 10, 15, 20, 25, 30], "tickCount": 100, "format": "d", "labelOverlap": false, "labelFlush": false, "labelPadding": 4, "title": "% of Population", "titlePadding": 10}},
               "y2": {"datum": 0}}},
            {"data": {"values": [{}]},
             "encoding": {"x": {"datum": 142.4, "type": "quantitative"}, "y": {"datum": 33.42, "type": "quantitative"}},
             "layer": [
               {"mark": {"type": "text", "text": "P", "align": "right", "baseline": "alphabetic", "dx": -20.45, "fontSize": 11, "color": "#404040"}},
               {"mark": {"type": "text", "text": "odhA", "align": "center", "baseline": "alphabetic", "dx": -7.7, "fontSize": 11, "fontStyle": "italic", "color": "#404040"}},
               {"mark": {"type": "text", "text": ":YFP", "align": "left", "baseline": "alphabetic", "dx": 5.3, "fontSize": 11, "color": "#404040"}}
             ]},
            {"data": {"values": [{}]}, "mark": {"type": "text", "text": ["Mean = 135", "Skew = 0.06"], "align": "right", "baseline": "alphabetic", "lineHeight": 12, "fontSize": 10.5, "color": "#262626"},
             "encoding": {"x": {"datum": 366.8, "type": "quantitative"}, "y": {"datum": 27.66, "type": "quantitative"}}}
          ]
        },
        {
          "width": 200, "height": 200,
          "layer": [
            {"data": {"values": [{}]}, "mark": {"type": "rule", "color": "#bfbfbf", "strokeWidth": 1},
             "encoding": {"x": {"datum": -24, "type": "quantitative"}, "x2": {"datum": 1065}, "y": {"datum": 0, "type": "quantitative"}}},
            {"data": {"name": "tkt"}, "mark": {"type": "bar"},
             "encoding": {
               "x": {"field": "lo", "type": "quantitative", "scale": {"domain": [-326.8, 1125.6], "nice": false, "zero": false},
                     "axis": {"orient": "bottom", "offset": -46, "values": [0, 100, 200, 300, 400, 500, 600, 700, 800, 900, 1000], "tickCount": 100, "format": "d", "labelOverlap": false, "labelFlush": false, "labelAngle": -90, "labelPadding": 2, "title": "Fluorescence (AU)", "titlePadding": 9, "titleX": 111.7}},
               "x2": {"field": "hi"},
               "y": {"field": "pct", "type": "quantitative", "scale": {"domain": [-7.1, 23.76], "nice": false, "zero": false},
                     "axis": {"orient": "left", "offset": -41.7, "values": [0, 2, 4, 6, 8, 10, 12, 14, 16, 18], "tickCount": 100, "format": "d", "labelOverlap": false, "labelFlush": false, "labelPadding": 4, "title": "% of Population", "titlePadding": 10}},
               "y2": {"datum": 0}}},
            {"data": {"values": [{}]},
             "encoding": {"x": {"datum": 399.4, "type": "quantitative"}, "y": {"datum": 20.27, "type": "quantitative"}},
             "layer": [
               {"mark": {"type": "text", "text": "P", "align": "right", "baseline": "alphabetic", "dx": -14.1, "fontSize": 11, "color": "#404040"}},
               {"mark": {"type": "text", "text": "tkt", "align": "center", "baseline": "alphabetic", "dx": -7.7, "fontSize": 11, "fontStyle": "italic", "color": "#404040"}},
               {"mark": {"type": "text", "text": ":YFP", "align": "left", "baseline": "alphabetic", "dx": -1.0, "fontSize": 11, "color": "#404040"}}
             ]},
            {"data": {"values": [{}]}, "mark": {"type": "text", "text": ["Mean = 497", "Skew = -0.1"], "align": "right", "baseline": "alphabetic", "lineHeight": 12, "fontSize": 10.5, "color": "#262626"},
             "encoding": {"x": {"datum": 1060.3, "type": "quantitative"}, "y": {"datum": 16.62, "type": "quantitative"}}}
          ]
        }
      ]
    }
  ]
}
